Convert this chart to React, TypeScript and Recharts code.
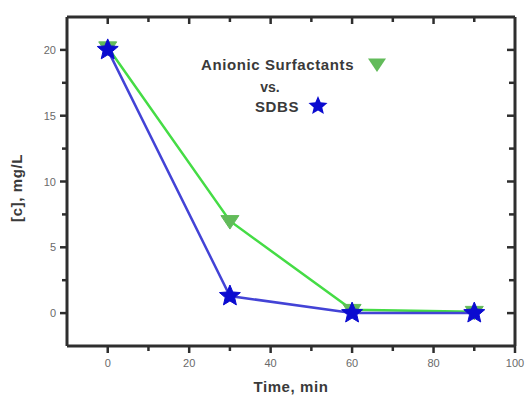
import { LineChart, Line, XAxis, YAxis, Label } from "recharts";

// sampling times (min) and concentrations (mg/L)
const times = [0, 30, 60, 90];
const anionic = [20.2, 7.0, 0.25, 0.1];
const sdbs = [20.0, 1.3, 0.0, 0.0];

const xTicks = [0, 10, 20, 30, 40, 50, 60, 70, 80, 90, 100];
const xTopTicks = [0, 10, 20, 30, 40, 50, 60, 70, 80, 90];
const yTicks = [0, 2.5, 5, 7.5, 10, 12.5, 15, 17.5, 20];

const data = times.map((t, i) => ({ t, anionic: anionic[i], sdbs: sdbs[i] }));

const FONT = "'Liberation Sans', Arial, sans-serif";
const AXIS = "#2e2e2e";

function starPoints(cx: number, cy: number, R: number) {
  const r = R * 0.45;
  const pts: string[] = [];
  for (let i = 0; i < 10; i++) {
    const a = -Math.PI / 2 + (i * Math.PI) / 5;
    const rad = i % 2 === 0 ? R : r;
    pts.push(`${cx + rad * Math.cos(a)},${cy + rad * Math.sin(a)}`);
  }
  return pts.join(" ");
}

function triPoints(cx: number, cy: number, s: number) {
  return `${cx - s},${cy - s * 0.6} ${cx + s},${cy - s * 0.6} ${cx},${cy + s * 0.9}`;
}

const StarDot = (p: any) => (
  <polygon key={`s${p.index}`} points={starPoints(p.cx, p.cy, 11)} fill="#0b0bd0" stroke="#0b0bd0" strokeWidth={1} />
);
const TriDot = (p: any) => (
  <polygon key={`t${p.index}`} points={triPoints(p.cx, p.cy, 9)} fill="#62bb5a" stroke="#62bb5a" strokeWidth={1} />
);

const BottomTick = ({ x, y, payload }: any) => {
  const major = payload.value % 20 === 0;
  return (
    <g>
      <line x1={x} x2={x} y1={y} y2={y + (major ? 7 : 5)} stroke={AXIS} strokeWidth={2.5} />
      {major && (
        <text x={x} y={y + 21} textAnchor="middle" fontSize={11} fill="#6a6a6a" fontFamily={FONT}>
          {payload.value}
        </text>
      )}
    </g>
  );
};

const TopTick = ({ x, y, payload }: any) => {
  const major = payload.value % 20 === 0;
  return <line x1={x} x2={x} y1={y} y2={y + (major ? 7 : 5)} stroke={AXIS} strokeWidth={2.5} />;
};

const LeftTick = ({ x, y, payload }: any) => {
  const major = payload.value % 5 === 0;
  return (
    <g>
      <line x1={x} x2={x - (major ? 7 : 5)} y1={y} y2={y} stroke={AXIS} strokeWidth={2.5} />
      {major && (
        <text x={x - 11} y={y + 4} textAnchor="end" fontSize={11} fill="#6a6a6a" fontFamily={FONT}>
          {payload.value}
        </text>
      )}
    </g>
  );
};

const RightTick = ({ x, y, payload }: any) => {
  const major = payload.value % 5 === 0;
  return <line x1={x} x2={x - (major ? 8 : 6)} y1={y} y2={y} stroke={AXIS} strokeWidth={2.5} />;
};

export default function App() {
  return (
    <div style={{ position: "absolute", left: 0, top: 0, width: 527, height: 396, background: "#fff" }}>
      <LineChart width={527} height={396} data={data} margin={{ top: 13, right: 8, bottom: 20, left: 20 }}>
        <XAxis
          dataKey="t"
          type="number"
          domain={[-10, 100]}
          ticks={xTicks}
          interval={0}
          tick={BottomTick}
          tickLine={false}
          tickSize={0}
          tickMargin={0}
          height={30}
          axisLine={{ stroke: AXIS, strokeWidth: 3 }}
        >
          <Label
            content={({ viewBox }: any) => (
              <text
                x={viewBox.x + viewBox.width / 2}
                y={viewBox.y + 46}
                textAnchor="middle"
                fontSize={15}
                fontWeight="bold"
                fill="#3a3a3a"
                fontFamily={FONT}
                letterSpacing={0.6}
              >
                Time, min
              </text>
            )}
          />
        </XAxis>
        <XAxis
          xAxisId="top"
          dataKey="t"
          orientation="top"
          type="number"
          domain={[-10, 100]}
          ticks={xTopTicks}
          interval={0}
          tick={TopTick}
          tickLine={false}
          tickSize={0}
          tickMargin={0}
          height={4}
          axisLine={{ stroke: AXIS, strokeWidth: 3 }}
        />
        <YAxis
          type="number"
          domain={[-2.5, 22.5]}
          ticks={yTicks}
          interval={0}
          tick={LeftTick}
          tickLine={false}
          tickSize={0}
          tickMargin={0}
          width={47}
          axisLine={{ stroke: AXIS, strokeWidth: 3 }}
        >
          <Label
            content={() => (
              <text
                x={0}
                y={0}
                transform="translate(22,188) rotate(-90)"
                textAnchor="middle"
                fontSize={15}
                fontWeight="bold"
                fill="#3a3a3a"
                fontFamily={FONT}
                letterSpacing={0.6}
              >
                [c], mg/L
              </text>
            )}
          />
        </YAxis>
        <YAxis
          yAxisId="right"
          orientation="right"
          type="number"
          domain={[-2.5, 22.5]}
          ticks={yTicks}
          interval={0}
          tick={RightTick}
          tickLine={false}
          tickSize={0}
          tickMargin={0}
          width={4}
          axisLine={{ stroke: AXIS, strokeWidth: 3 }}
        />
        {/* invisible series tied to the mirror axes */}
        <Line
          xAxisId="top"
          yAxisId="right"
          dataKey="sdbs"
          stroke="none"
          dot={false}
          activeDot={false}
          legendType="none"
          isAnimationActive={false}
        />
        <Line
          dataKey="anionic"
          stroke="#45dc45"
          strokeWidth={2.5}
          dot={TriDot}
          activeDot={false}
          isAnimationActive={false}
        />
        <Line
          dataKey="sdbs"
          stroke="#4343d6"
          strokeWidth={2.5}
          dot={StarDot}
          activeDot={false}
          isAnimationActive={false}
        />
      </LineChart>
      <svg
        width={527}
        height={396}
        style={{ position: "absolute", left: 0, top: 0, pointerEvents: "none" }}
        fontFamily={FONT}
      >
        <text x={201} y={70} fontSize={15} fontWeight="bold" fill="#3a3a3a" letterSpacing={0.6}>
          Anionic Surfactants
        </text>
        <polygon points={triPoints(377, 64, 9)} fill="#62bb5a" />
        <text x={270} y={92} textAnchor="middle" fontSize={14} fontWeight="bold" fill="#3a3a3a">
          vs.
        </text>
        <text x={255} y={112} fontSize={15} fontWeight="bold" fill="#3a3a3a" letterSpacing={0.6}>
          SDBS
        </text>
        <polygon points={starPoints(318, 106, 10)} fill="#0b0bd0" />
      </svg>
    </div>
  );
}
